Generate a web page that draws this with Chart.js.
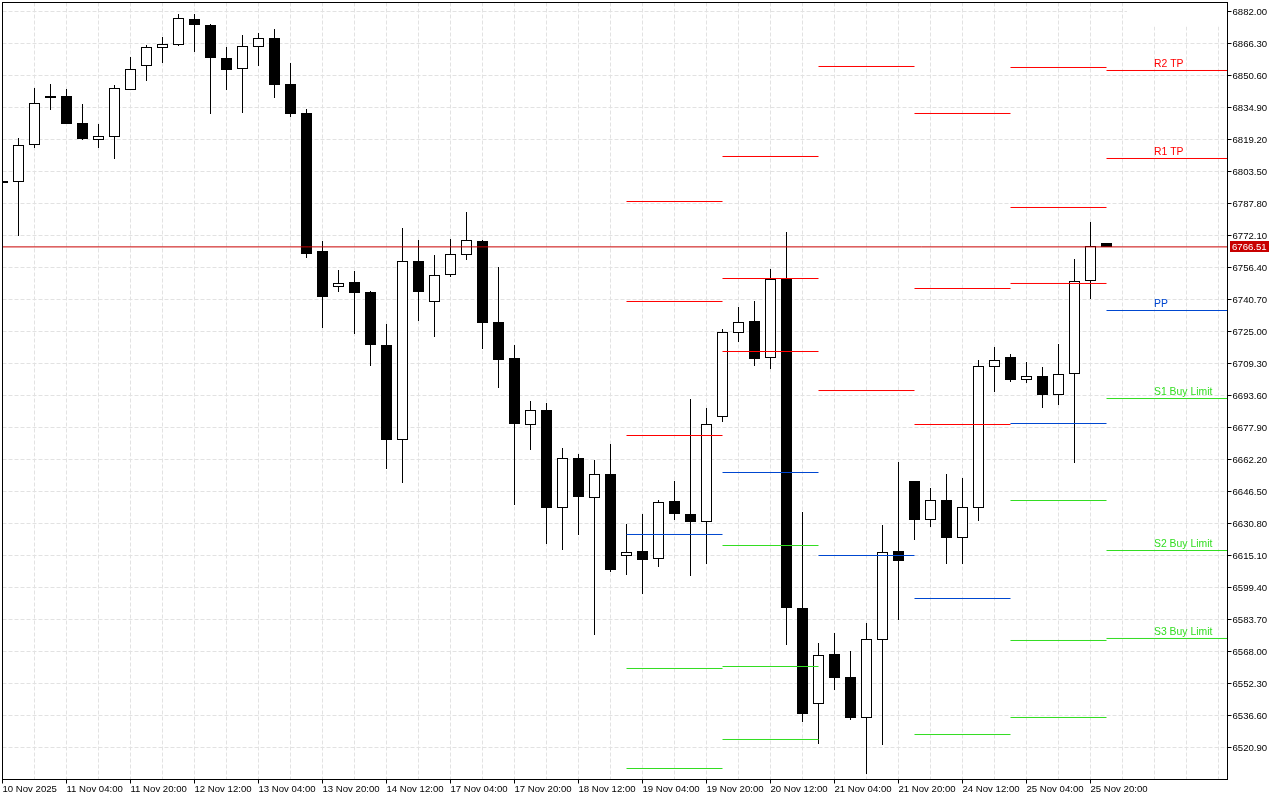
<!DOCTYPE html>
<html>
<head>
<meta charset="utf-8">
<style>html,body{margin:0;padding:0;background:#fff}canvas{display:block}</style>
<script src="https://cdn.jsdelivr.net/npm/chart.js@4/dist/chart.umd.min.js"></script>
</head>
<body>
<canvas id="c" width="1280" height="800"></canvas>
<script>
const highs = [6798.84,6819.94,6844.46,6846.43,6843.97,6836.62,6826.80,6845.94,6859.67,6865.56,6869.49,6880.77,6880.77,6875.86,6864.58,6870.47,6871.45,6873.41,6856.73,6834.16,6769.40,6755.18,6754.69,6744.87,6728.67,6775.78,6769.89,6762.54,6770.39,6783.63,6769.89,6756.65,6718.37,6690.90,6689.92,6667.84,6664.90,6661.95,6669.80,6630.55,6635.46,6642.33,6651.65,6691.88,6687.46,6726.22,6737.02,6739.96,6755.67,6773.82,6636.44,6572.17,6577.08,6568.25,6581.99,6630.06,6660.97,6651.65,6648.21,6655.08,6653.12,6711.01,6717.39,6713.96,6710.03,6707.58,6718.86,6760.57,6778.73,6768.42];
const opens = [6798.84,6798.35,6816.50,6840.54,6840.54,6827.30,6818.95,6820.43,6843.48,6855.26,6864.09,6865.56,6878.32,6875.37,6859.18,6853.79,6864.58,6869.00,6846.43,6832.20,6764.50,6746.84,6749.29,6744.38,6718.37,6671.76,6759.59,6739.47,6752.72,6762.54,6769.40,6729.66,6711.99,6679.12,6686.48,6638.40,6662.93,6643.31,6655.08,6614.85,6617.31,6613.38,6641.84,6635.46,6631.54,6683.05,6724.26,6730.15,6711.99,6750.76,6589.34,6542.24,6566.78,6555.49,6535.37,6573.64,6617.31,6651.65,6632.52,6642.33,6623.69,6638.40,6707.58,6712.48,6701.20,6703.16,6693.84,6704.14,6749.78,6768.42];
const closes = [6797.86,6816.50,6837.11,6839.56,6826.80,6819.45,6820.92,6844.46,6853.79,6864.58,6866.05,6878.81,6875.37,6859.18,6853.30,6865.07,6869.00,6845.94,6831.71,6763.03,6741.93,6748.80,6743.89,6718.37,6671.76,6759.59,6744.38,6752.72,6763.03,6769.89,6729.17,6711.01,6679.61,6686.48,6638.40,6662.93,6643.80,6655.08,6607.99,6616.82,6612.89,6641.35,6635.46,6631.54,6679.61,6724.75,6729.66,6711.50,6750.76,6589.34,6537.33,6566.29,6555.00,6535.37,6574.14,6616.82,6612.40,6632.52,6642.33,6623.69,6638.90,6708.07,6711.01,6701.20,6703.16,6693.84,6704.14,6749.78,6766.95,6766.51];
const lows = [6797.86,6771.86,6815.03,6833.67,6826.80,6818.95,6815.03,6809.63,6843.48,6847.90,6856.73,6865.07,6862.13,6831.71,6843.48,6832.20,6855.26,6839.56,6830.24,6761.06,6726.71,6744.38,6723.77,6708.07,6657.54,6650.67,6730.15,6722.30,6751.74,6760.08,6716.41,6697.27,6639.88,6666.86,6620.74,6617.80,6625.16,6576.10,6607.00,6605.53,6596.21,6609.46,6632.52,6605.04,6610.93,6680.60,6719.84,6708.07,6706.60,6571.19,6533.41,6522.61,6549.11,6534.39,6507.89,6522.12,6583.46,6622.70,6629.08,6610.93,6610.93,6632.03,6695.31,6700.22,6699.73,6687.46,6688.94,6660.48,6740.95,6766.46];

const xTickLabels = ['10 Nov 2025','11 Nov 04:00','11 Nov 20:00','12 Nov 12:00','13 Nov 04:00','13 Nov 20:00','14 Nov 12:00','17 Nov 04:00','17 Nov 20:00','18 Nov 12:00','19 Nov 04:00','19 Nov 20:00','20 Nov 12:00','21 Nov 04:00','21 Nov 20:00','24 Nov 12:00','25 Nov 04:00','25 Nov 20:00'];
const yTickValues = [6882.00,6866.30,6850.60,6834.90,6819.20,6803.50,6787.80,6772.10,6756.40,6740.70,6725.00,6709.30,6693.60,6677.90,6662.20,6646.50,6630.80,6615.10,6599.40,6583.70,6568.00,6552.30,6536.60,6520.90];

const currentPrice = 6766.51;
const levelStarts = [39,45,51,57,63,69];
const levelEnds = [45,51,57,63,69,76.5625];
const redLevels = [[6788.78,6739.72,6673.97],[6810.86,6751.00,6715.18],[6855.02,6696.04],[6831.96,6746.09,6679.37],[6854.53,6785.84,6748.56],[6853.06,6809.88]];
const blueLevels = [[6625.41],[6655.82],[6615.10],[6594.00],[6679.86],[6735.30]];
const greenLevels = [[6559.66,6510.59],[6620.00,6560.64,6524.83],[],[6527.27],[6642.08,6573.40,6535.62],[6692.12,6617.55,6574.39]];
const levelLabelTexts = ['R2 TP','R1 TP','PP','S1 Buy Limit','S2 Buy Limit','S3 Buy Limit'];
const levelLabelValues = [6853.06,6809.88,6735.30,6692.12,6617.55,6574.39];
const levelLabelKinds = ['red','red','blue','green','green','green'];

const COLORS = {red:'#ff0000', blue:'#0047d0', green:'#33dd22', price:'#c80000', grid:'#e2e2e2'};
const FONT = '9.6px "Liberation Sans", sans-serif';
const LABEL_FONT = '10.4px "Liberation Sans", sans-serif';
const LABEL_INDEX = 72;

function levelDatasets(levels, color){
  const out = [];
  levels.forEach((vals, col) => vals.forEach(v => out.push({
    type:'line', data:[{x:levelStarts[col],y:v},{x:levelEnds[col],y:v}],
    borderColor:color, borderWidth:1, pointRadius:0, tension:0, fill:false, order:1
  })));
  return out;
}

const wickData = highs.map((h,i)=>({x:i,y:[lows[i],h]}));
const bodyData = opens.map((o,i)=>({x:i,y:[o,closes[i]]}));

const hiddenBox = {
  id:'hiddenBox',
  beforeDatasetsDraw(chart){
    const {ctx,chartArea:a,scales:{x,y}} = chart;
    const l = Math.round(x.getPixelForValue(70.3));
    const b = Math.round(y.getPixelForValue(6875.1));
    ctx.save(); ctx.fillStyle='#fff'; ctx.fillRect(l,a.top+0.5,a.right-l-0.5,b-a.top); ctx.restore();
  }
};
const overlay = {
  id:'overlay',
  afterDatasetsDraw(chart){
    const {ctx,chartArea:a,scales:{x,y}} = chart;
    ctx.save();
    ctx.strokeStyle='#000'; ctx.lineWidth=1;
    ctx.strokeRect(a.left,a.top,a.right-a.left,a.bottom-a.top);
    ctx.font = LABEL_FONT; ctx.textAlign='left'; ctx.textBaseline='alphabetic';
    levelLabelTexts.forEach((t,i)=>{
      ctx.fillStyle = COLORS[levelLabelKinds[i]];
      ctx.fillText(t, x.getPixelForValue(LABEL_INDEX)-0.5, Math.floor(y.getPixelForValue(levelLabelValues[i]))-3);
    });
    ctx.font = FONT;
    const py = Math.floor(y.getPixelForValue(currentPrice));
    ctx.fillStyle = COLORS.price;
    ctx.fillRect(Math.floor(a.right)+3, py-5, 39, 11);
    ctx.fillStyle='#fff';
    ctx.fillText(currentPrice.toFixed(2), Math.floor(a.right)+5, py+3.5);
    ctx.restore();
  }
};

new Chart(document.getElementById('c'),{
  type:'bar',
  data:{datasets:[
    {data:wickData, backgroundColor:'#000', borderWidth:0, maxBarThickness:1, barPercentage:1, categoryPercentage:1, grouped:false, inflateAmount:0, order:5},
    {data:bodyData, backgroundColor:c=>closes[c.dataIndex]>=opens[c.dataIndex]?'#fff':'#000', borderColor:'#000', borderWidth:1, borderSkipped:false, maxBarThickness:11, barPercentage:1, categoryPercentage:1, grouped:false, inflateAmount:0, order:4},
    ...levelDatasets(redLevels,COLORS.red),
    ...levelDatasets(blueLevels,COLORS.blue),
    ...levelDatasets(greenLevels,COLORS.green),
    {type:'line', data:[{x:0,y:currentPrice},{x:76.5625,y:currentPrice}], borderColor:COLORS.price, borderWidth:1, pointRadius:0, tension:0, order:0}
  ]},
  plugins:[hiddenBox,overlay],
  options:{
    responsive:false, animation:false, devicePixelRatio:1,
    layout:{autoPadding:false,padding:{left:2.5,top:2.5,right:0,bottom:0}},
    plugins:{legend:{display:false},tooltip:{enabled:false}},
    scales:{
      x:{
        type:'linear', position:'bottom', min:0, max:76.5625, offset:false,
        afterFit(s){s.height=20.5;s.paddingLeft=0;s.paddingRight=0;s.paddingTop=0;s.paddingBottom=0;},
        afterBuildTicks(s){const t=[];for(let v=0;v<=76;v+=2)t.push({value:v});s.ticks=t;},
        grid:{offset:false,color:COLORS.grid,lineWidth:1,tickLength:4,
          tickColor:c=>(c.tick&&c.tick.value%4===0&&c.tick.value<=68)?'#000':'rgba(0,0,0,0)',tickBorderDash:[]},
        border:{color:'#000',width:1,dash:[4,2]},
        ticks:{autoSkip:false,maxRotation:0,minRotation:0,align:'start',padding:0,color:'#000',font:{family:'"Liberation Sans", sans-serif',size:9.6},
          callback:v=>(v%4===0&&xTickLabels[v/4])||''}
      },
      y:{
        type:'linear', position:'right', min:6505.2, max:6886.415625,
        afterFit(s){s.width=52.5;s.paddingLeft=0;s.paddingRight=0;s.paddingTop=0;s.paddingBottom=0;},
        afterBuildTicks(s){s.ticks=yTickValues.map(v=>({value:v}));},
        grid:{color:COLORS.grid,lineWidth:1,tickLength:4,tickColor:'#000',tickBorderDash:[]},
        border:{color:'#000',width:1,dash:[4,2]},
        ticks:{autoSkip:false,padding:1,labelOffset:1,color:'#000',font:{family:'"Liberation Sans", sans-serif',size:9.6},
          callback:v=>v.toFixed(2)}
      }
    }
  }
});
</script>
</body>
</html>
